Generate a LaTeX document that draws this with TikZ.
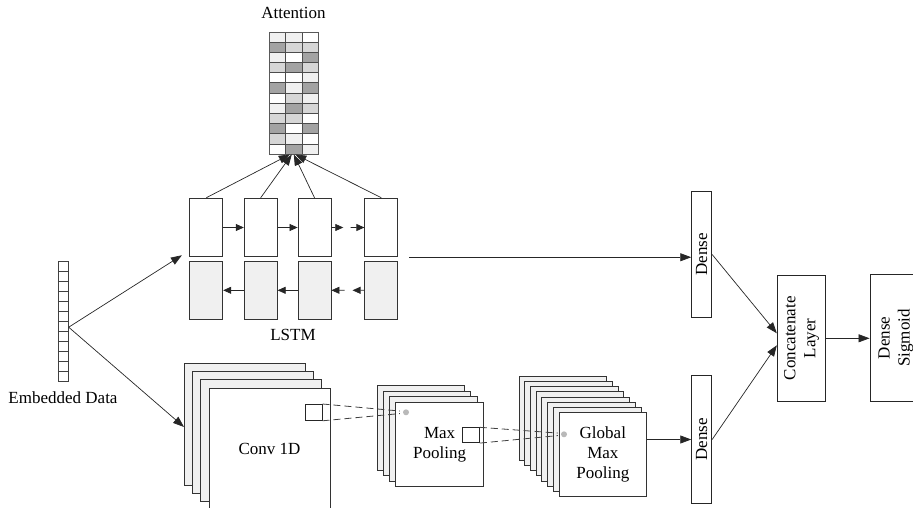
\documentclass[tikz,border=0pt]{standalone}
\usepackage{fontspec}
\setmainfont{Liberation Serif}
\usepackage{xcolor}
\usetikzlibrary{arrows.meta, positioning, calc}

\colorlet{attw}{white}
\colorlet{attl}{gray!12}
\colorlet{attm}{gray!32}
\colorlet{attd}{gray!72}

\begin{document}
\begin{tikzpicture}[
    x=1pt, y=1pt,
    font=\fontsize{17}{20}\selectfont,
    cell/.style={draw=black!80, line width=0.8pt, inner sep=0pt, minimum width=33pt, minimum height=58.7pt},
    fwd/.style={cell, fill=white},
    bwd/.style={cell, fill=gray!12},
    page/.style={draw=black!80, line width=0.9pt, fill=gray!12},
    front/.style={draw=black!80, line width=0.9pt, fill=white, inner sep=0pt, align=center},
    layer/.style={draw=black!85, line width=0.9pt, fill=white, inner sep=0pt},
    win/.style={draw=black!85, line width=0.8pt, inner sep=0pt, minimum width=16.7pt, minimum height=16pt},
    dot/.style={circle, fill=gray!55, inner sep=0pt, minimum size=6pt},
    line/.style={-{Triangle[length=11pt,width=8pt]}, line width=0.7pt, draw=black!85},
    shortline/.style={-{Triangle[length=8pt,width=7pt]}, line width=0.7pt, draw=black!85},
    link/.style={dash pattern=on 7pt off 4pt, line width=0.8pt, draw=black!75}
]
\useasboundingbox (0,0) rectangle (913,-508);

% attention weights
\foreach \ca/\cb/\cc [count=\r] in {l/l/w, d/m/m, l/w/d, m/d/m, w/w/l, d/l/d,
                                    w/m/l, l/d/m, m/m/w, d/w/d, m/l/w, w/d/l} {
  \foreach \c [count=\k] in {\ca,\cb,\cc}
    \filldraw[fill=att\c, draw=black!70, line width=0.7pt]
      ({269.3+(\k-1)*16.33},{-32-(\r-1)*10.17}) rectangle ++(16.33,-10.17);
}
\node[draw=black!65, line width=0.9pt, inner sep=0pt, minimum width=49pt, minimum height=122pt] (attn) at (293.8,-93) {};
\node (attnlbl) at (293.5,-13) {Attention};

% embedded input
\node[draw=black!75, line width=0.8pt, inner sep=0pt, minimum width=10pt, minimum height=120pt] (embed) at (63.3,-321.7) {};
\foreach \i in {1,...,11}
  \draw[black!75, line width=0.8pt] ($(embed.north west)+(0,-\i*10)$) -- ++(10,0);
\node (embedlbl) at (63,-398) {Embedded Data};

% bi-directional LSTM
\node[fwd] (f1) at (206.3,-227.5) {};
\node[fwd, right=20.6pt of f1] (f2) {};
\node[fwd, right=20pt of f2] (f3) {};
\node[fwd, right=33pt of f3] (f4) {};
\node[bwd, below=3.3pt of f1] (b1) {};
\node[bwd, below=3.3pt of f2] (b2) {};
\node[bwd, below=3.3pt of f3] (b3) {};
\node[bwd, below=3.3pt of f4] (b4) {};
\node (lstmlbl) at (293,-335) {LSTM};

\coordinate (fa) at ($(f3.east)!0.36!(f4.west)$);
\coordinate (fb) at ($(f3.east)!0.58!(f4.west)$);
\coordinate (ba) at ($(b3.east)!0.64!(b4.west)$);
\coordinate (bb) at ($(b3.east)!0.40!(b4.west)$);

\draw[shortline] (f1) -- (f2);
\draw[shortline] (f2) -- (f3);
\draw[shortline] (f3.east) -- (fa);
\draw[shortline] (fb) -- (f4.west);
\draw[shortline] (b2) -- (b1);
\draw[shortline] (b3) -- (b2);
\draw[shortline] (b4.west) -- (ba);
\draw[shortline] (bb) -- (b3.east);

\foreach \n/\dx in {f1/-4, f2/-2, f3/0, f4/1.5}
  \draw[line] (\n.north) -- ($(attn.south)+(\dx,0)$);

% conv 1D
\foreach \k in {0,1,2}
  \draw[page] ({184+8.33*\k},{-363.3-8.2*\k}) rectangle ++(121,-122);
\node[front, minimum width=121pt, minimum height=122pt] (conv) at (269.5,-449.3) {Conv 1D};
\node[win, anchor=north west] (convwin) at (305,-404) {};

% max pooling
\foreach \k in {0,1,2}
  \draw[page] ({377.3+6.1*\k},{-385.7-5.5*\k}) rectangle ++(87.5,-84.5);
\node[front, minimum width=87.5pt, minimum height=84.5pt] (mp) at (439.6,-444.5) {Max\\Pooling};
\node[dot] (mpdot) at (406,-412.3) {};
\node[win, anchor=north west, minimum height=15pt] (mpwin) at (462.3,-427.3) {};

% global max pooling
\foreach \k in {0,...,6}
  \draw[page] ({519+5.71*\k},{-376-5.24*\k}) rectangle ++(87.7,-84);
\node[front, minimum width=87.7pt, minimum height=84pt] (gmp) at (602.85,-454.7) {Global\\Max\\Pooling};
\node[dot] (gmpdot) at (564,-434.3) {};

\draw[link, shorten >=3pt] (convwin.north east) -- ([yshift=1pt]mpdot.west);
\draw[link, shorten >=3pt] (convwin.south east) -- ([yshift=-1pt]mpdot.west);
\draw[link, shorten >=3pt] (mpwin.north east) -- ([yshift=1pt]gmpdot.west);
\draw[link, shorten >=3pt] (mpwin.south east) -- ([yshift=-1pt]gmpdot.west);

% dense, concatenate, output
\node[layer, minimum width=20pt, minimum height=125.6pt] (dense1) at (701.7,-254.5) {};
\node[rotate=90] (dense1lbl) at (dense1) {Dense};
\node[layer, minimum width=20pt, minimum height=127.6pt] (dense2) at (701.7,-439.5) {};
\node[rotate=90] (dense2lbl) at (dense2) {Dense};
\node[layer, minimum width=48.4pt, minimum height=126.7pt] (concat) at (801.5,-338.3) {};
\node[rotate=90, align=center] (concatlbl) at (concat) {Concatenate\\Layer};
\node[layer, minimum width=52pt, minimum height=127.4pt] (sig) at (896,-338) {};
\node[rotate=90, align=center] (siglbl) at (sig) {Dense\\Sigmoid};

\coordinate (embout) at ($(embed.east)+(0,-5.5)$);
\coordinate (lstmin) at ($(f1.south west)+(-7.5,2)$);
\coordinate (convin) at (184,-427);
\coordinate (lstmout) at ($(f4.south east)+(11,0)$);

\draw[line] (embout) -- (lstmin);
\draw[line] (embout) -- (convin);
\draw[line] (lstmout) -- (lstmout -| dense1.west);
\draw[line] (gmp.east |- dense2.west) -- (dense2.west);
\draw[line] (dense1.east) -- ($(concat.west)+(0,5)$);
\draw[line] (dense2.east) -- ($(concat.west)+(0,-7)$);
\draw[line] (concat.east) -- (concat.east -| sig.west);

\end{tikzpicture}
\end{document}
